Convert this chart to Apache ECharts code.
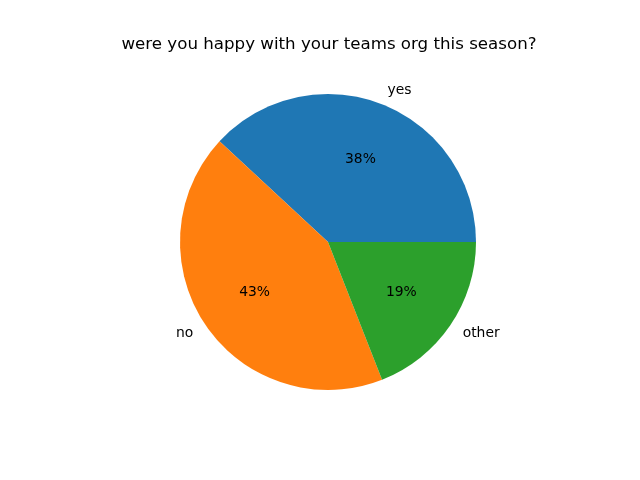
<!DOCTYPE html>
<html>
<head>
<meta charset="utf-8">
<script src="https://cdn.jsdelivr.net/npm/echarts@6/dist/echarts.min.js"></script>
<style>html,body{margin:0;padding:0;background:#fff}#c{width:640px;height:480px}</style>
</head>
<body>
<div id="c"></div>
<script>
const categories = ['yes', 'no', 'other'];
const counts = [8, 9, 4];
const colors = ['#1f77b4', '#ff7f0e', '#2ca02c'];
const titleText = 'were you happy with your teams org this season?';

const chart = echarts.init(document.getElementById('c'), null, {renderer: 'canvas'});
const R = 148;
const center = [328, 242];
const font = 'DejaVu Sans';
const total = counts.reduce((a, b) => a + b, 0);
const midAngles = [];
let acc = 0;
counts.forEach(v => { midAngles.push((acc + v / 2) / total * 2 * Math.PI); acc += v; });
const data = categories.map((c, i) => ({name: c, value: counts[i], itemStyle: {color: colors[i]}}));
const dataT = categories.map((c, i) => ({name: c, value: counts[i]}));
chart.setOption({
  animation: false,
  backgroundColor: '#fff',
  title: {
    text: titleText, left: 324, top: 31, textAlign: 'center',
    textStyle: {fontFamily: font, fontSize: 16.67, fontWeight: 'normal', color: '#000'}
  },
  series: [
    {
      type: 'pie', center: center, radius: [0, R],
      startAngle: 0, clockwise: false, avoidLabelOverlap: false,
      silent: true, emphasis: {disabled: true},
      itemStyle: {borderWidth: 0},
      label: {show: true, position: 'outside', fontFamily: font, fontSize: 13.9, color: '#000', formatter: '{b}', distanceToLabelLine: 0},
      labelLine: {show: false, length: 15, length2: 0},
      data: data
    },
    {
      type: 'pie', center: center, radius: [0, R],
      startAngle: 0, clockwise: false, avoidLabelOverlap: false,
      silent: true, emphasis: {disabled: true}, z: 5,
      itemStyle: {color: 'rgba(0,0,0,0)', borderWidth: 0},
      label: {show: true, position: 'inside', fontFamily: font, fontSize: 13.9, color: '#000',
        formatter: p => Math.round(p.percent) + '%'},
      labelLine: {show: false},
      labelLayout: p => ({
        x: center[0] + 0.6 * R * Math.cos(midAngles[p.dataIndex]),
        y: center[1] - 0.6 * R * Math.sin(midAngles[p.dataIndex]),
        align: 'center', verticalAlign: 'middle'
      }),
      data: dataT
    }
  ]
});
</script>
</body>
</html>
